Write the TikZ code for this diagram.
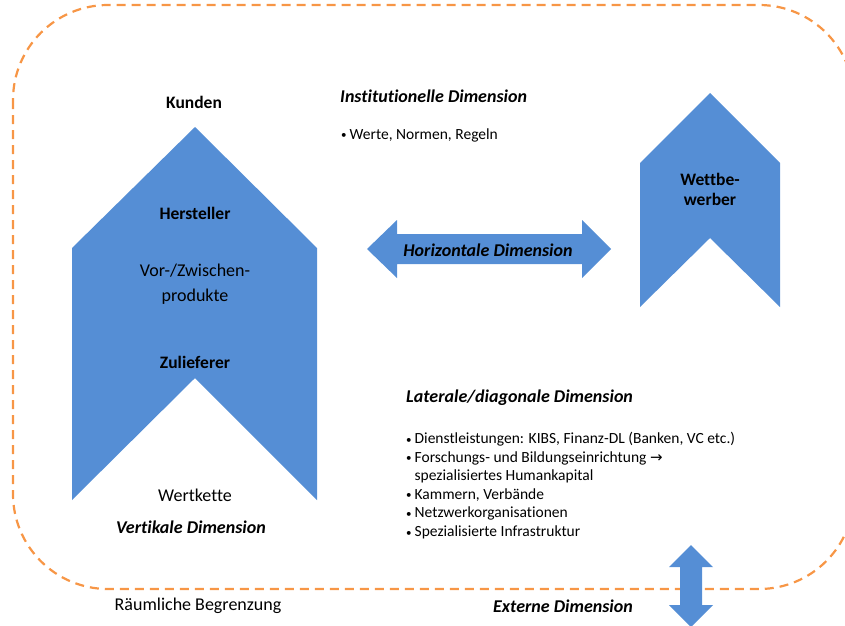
\documentclass[tikz,border=0pt]{standalone}
\usepackage{fontspec}
\setmainfont{Carlito}[Ligatures=CommonOff]
\newfontfamily\symbolfont{DejaVu Sans}
\usetikzlibrary{arrows}
\definecolor{chain_blue}{RGB}{85,142,213}
\definecolor{edge_orange}{RGB}{247,150,70}
\newcommand{\listdot}{{\fontsize{11}{11}\selectfont\raisebox{0.5pt}{•}}\hspace{3pt}}

\begin{document}
\begin{tikzpicture}[x=1pt,y=-1pt]
    \tikzstyle{plain}=[text=black,inner sep=0pt,font=\fontsize{18}{25}\selectfont,align=center]
    \tikzstyle{label}=[style=plain,font=\fontsize{17.5}{20}\selectfont\bfseries]
    \tikzstyle{dimension}=[style=plain,font=\fontsize{18}{20}\selectfont\bfseries\itshape]
    \tikzstyle{small}=[text=black,inner sep=0pt,font=\fontsize{15.5}{18.6}\selectfont,align=left]
    \tikzstyle{block}=[fill=chain_blue,draw=none]
    \tikzstyle{border}=[draw=edge_orange,line width=2.2pt,dash pattern=on 9pt off 6pt,rounded corners=95pt]
    \useasboundingbox (0,0) rectangle (845,625);

    % raeumliche Begrenzung
    \draw[border] (13,5) rectangle (854,589);

    % Wertkette und Wettbewerber
    \path[block] (195,127) -- (317,248) -- (317,500) -- (195,378) -- (72,500) -- (72,248) -- cycle;
    \path[block] (710,93) -- (780,163) -- (780,307) -- (710,238) -- (640,307) -- (640,163) -- cycle;

    % Doppelpfeile
    \path[block] (367,249) -- (397,220) -- (397,234) -- (582,234) -- (582,220) -- (611,249)
      -- (582,278) -- (582,264) -- (397,264) -- (397,278) -- cycle;
    \path[block] (691,545) -- (713,567) -- (702,567) -- (702,605) -- (713,605) -- (691,627)
      -- (669,605) -- (680,605) -- (680,567) -- (669,567) -- cycle;

    \node[label] (kunden) at (194,102) {Kunden};
    \node[label] (hersteller) at (195,213) {Hersteller};
    \node[plain] (vorprodukte) at (195,284) {Vor-/Zwischen-\\produkte};
    \node[label] (zulieferer) at (195,362) {Zulieferer};
    \node[plain] (wertkette) at (195,495) {Wertkette};
    \node[dimension] (vertikal) at (191,527) {Vertikale Dimension};

    \node[dimension,anchor=west] (institutionell) at (340,96) {Institutionelle Dimension};
    \node[small,anchor=west] (werte) at (341,135) {\listdot Werte, Normen, Regeln};

    \node[label] (wettbewerber) at (710,189) {Wettbe-\\werber};
    \node[dimension] (horizontal) at (488,250) {Horizontale Dimension};

    \node[dimension,anchor=west] (lateral) at (406,398) {Laterale/diagonale Dimension};
    \node[small,anchor=north west] (akteure) at (406,432) {%
      \listdot Dienstleistungen: KIBS, Finanz-DL (Banken, VC etc.)\\
      \listdot Forschungs- und Bildungseinrichtung {\symbolfont\fontsize{15}{15}\selectfont →}\\
      \phantom{\listdot}spezialisiertes Humankapital\\
      \listdot Kammern, Verbände\\
      \listdot Netzwerkorganisationen\\
      \listdot Spezialisierte Infrastruktur};

    \node[plain] (begrenzung) at (198,606) {Räumliche Begrenzung};
    \node[dimension] (extern) at (563,606) {Externe Dimension};
\end{tikzpicture}
\end{document}
